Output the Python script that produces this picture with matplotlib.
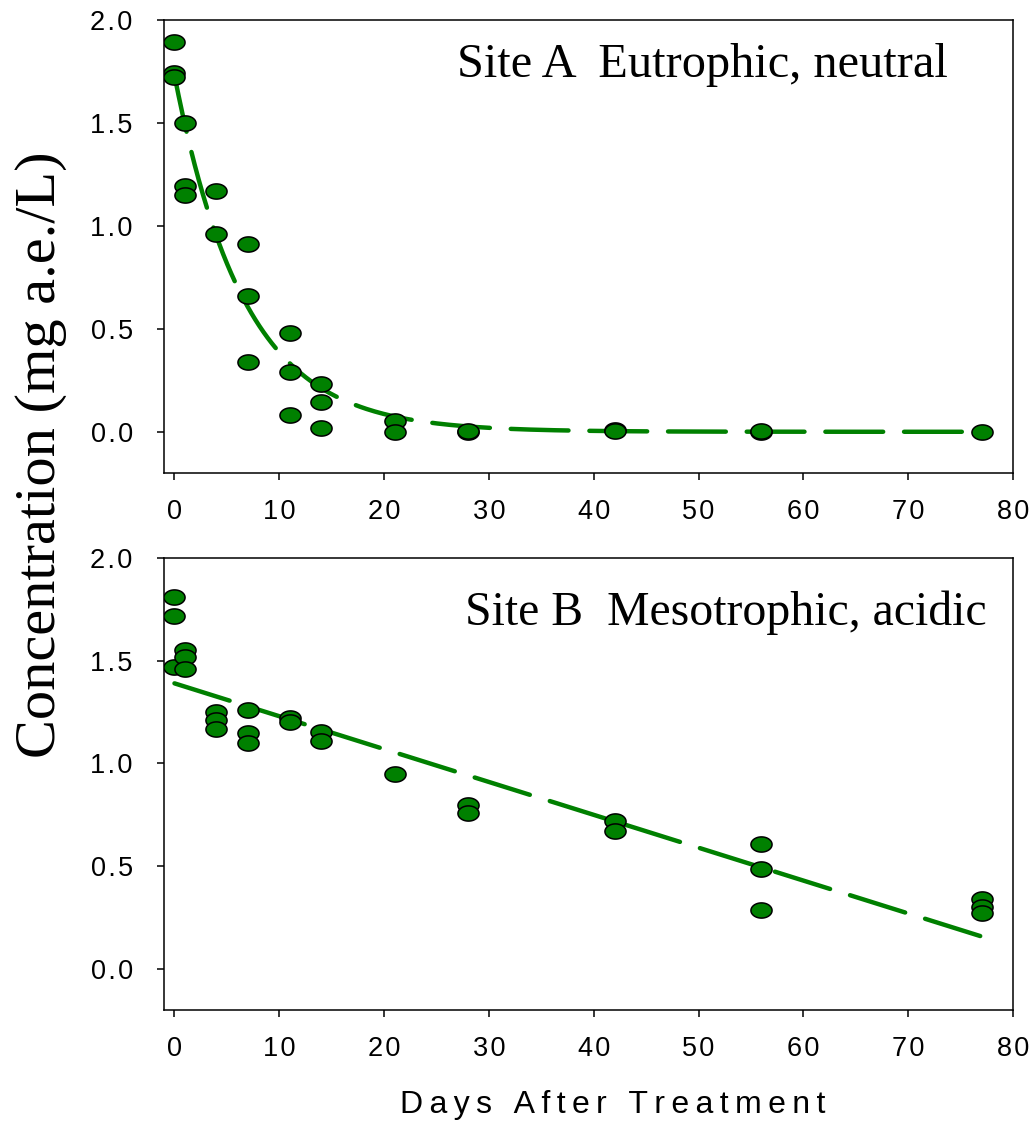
import numpy as np
import matplotlib
matplotlib.use("Agg")
import matplotlib.pyplot as plt
from matplotlib.path import Path
from matplotlib.ticker import FuncFormatter

# Site A (eutrophic, neutral) measured concentrations, mg a.e./L
days_a = [0, 0, 0, 1, 1, 1, 4, 4, 7, 7, 7, 11, 11, 11, 14, 14, 14,
          21, 21, 28, 28, 42, 42, 56, 56, 77]
conc_a = [1.89, 1.74, 1.72, 1.50, 1.19, 1.15, 1.17, 0.96, 0.91, 0.66, 0.34,
          0.48, 0.29, 0.08, 0.23, 0.145, 0.02, 0.05, 0.0, 0.0, 0.005,
          0.01, 0.005, 0.0, 0.003, 0.0]

# Site B (mesotrophic, acidic) measured concentrations, mg a.e./L
days_b = [0, 0, 0, 1, 1, 1, 4, 4, 4, 7, 7, 7, 11, 11, 14, 14, 21,
          28, 28, 42, 42, 56, 56, 56, 77, 77, 77]
conc_b = [1.81, 1.72, 1.47, 1.55, 1.52, 1.46, 1.25, 1.21, 1.17, 1.26, 1.15, 1.10,
          1.22, 1.20, 1.155, 1.11, 0.95, 0.80, 0.76, 0.72, 0.67,
          0.61, 0.485, 0.285, 0.34, 0.30, 0.27]

# Fitted dissipation models
fit_a_c0, fit_a_k = 1.73, 0.150          # first-order decay, Site A
fit_b_c0, fit_b_slope = 1.39, -0.0160    # linear decline, Site B
fit_days_end = 77

x_ticks = [0, 10, 20, 30, 40, 50, 60, 70, 80]
y_ticks = [0.0, 0.5, 1.0, 1.5, 2.0]
title_a = "Site A  Eutrophic, neutral"
title_b = "Site B  Mesotrophic, acidic"
y_label = "Concentration (mg a.e./L)"
x_label = "Days After Treatment"

GREEN = "#008000"
SANS = ["Liberation Sans", "DejaVu Sans"]
SERIF = ["Liberation Serif", "DejaVu Serif"]

# ellipse-shaped marker
theta = np.linspace(0, 2 * np.pi, 73)
ellipse = Path(np.column_stack([np.cos(theta), 0.72 * np.sin(theta)]), closed=True)


def spaced(s, sep="\u200a"):
    return sep.join(s)


fig = plt.figure(figsize=(10.32, 11.23), dpi=100)
ax_a = fig.add_axes([0.1589, 0.5788, 0.8227, 0.4038])
ax_b = fig.add_axes([0.1589, 0.1006, 0.8227, 0.4025])

xf = np.linspace(0, fit_days_end, 400)
fits = [fit_a_c0 * np.exp(-fit_a_k * xf), fit_b_c0 + fit_b_slope * xf]

for ax, dx, cy, yf in [(ax_a, days_a, conc_a, fits[0]), (ax_b, days_b, conc_b, fits[1])]:
    ax.plot(xf, yf, color=GREEN, lw=3.2, dashes=(13.0, 4.7),
            dash_capstyle="round", zorder=2)
    ax.plot(dx, cy, linestyle="none", marker=ellipse, markersize=15.2,
            markerfacecolor=GREEN, markeredgecolor="black",
            markeredgewidth=1.1, zorder=3)
    ax.set_xlim(-1, 80)
    ax.set_ylim(-0.2, 2.0)
    ax.set_xticks(x_ticks)
    ax.set_yticks(y_ticks)
    ax.xaxis.set_major_formatter(FuncFormatter(lambda v, p: spaced(f"{v:.0f}")))
    ax.yaxis.set_major_formatter(FuncFormatter(lambda v, p: spaced(f"{v:.1f}")))
    ax.tick_params(axis="both", direction="out", length=5, width=1.1,
                   color="black", labelsize=19.5)
    ax.tick_params(axis="x", pad=13.5)
    ax.tick_params(axis="y", pad=17.5)
    for lab in ax.get_xticklabels() + ax.get_yticklabels():
        lab.set_family(SANS)
    for sp in ax.spines.values():
        sp.set_linewidth(1.1)
        sp.set_color("black")

ax_a.text(27.0, 1.72, title_a, family=SERIF, fontsize=34.8, va="baseline", ha="left")
ax_b.text(27.7, 1.675, title_b, family=SERIF, fontsize=34.4, va="baseline", ha="left")

fig.text(0.040, 0.595, y_label, family=SERIF, fontsize=42, rotation=90,
         ha="center", va="center")
fig.text(0.594, 0.009, spaced(x_label, "\u2009"), family=SANS, fontsize=23,
         ha="center", va="baseline")

fig.savefig("out.png", dpi=100)
